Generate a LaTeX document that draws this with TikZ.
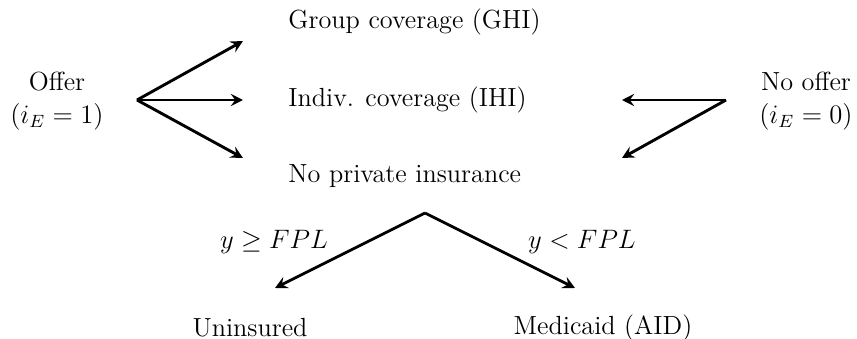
\documentclass[tikz,border=0pt]{standalone}
\usetikzlibrary{arrows.meta}
\begin{document}
\begin{tikzpicture}[x=0.45pt,y=-0.45pt,
  lbl/.style={inner sep=0pt, font=\fontsize{11.8}{14.5}\selectfont},
  arr/.style={line width=1.3pt, -{Stealth[length=5.5pt,width=5.5pt,inset=2pt]}}]
\useasboundingbox (0,0) rectangle (857,339);
% nodes
\node[lbl, align=center] (offer) at (57,101) {Offer\\$(i_E=1)$};
\node[lbl, align=center] (nooffer) at (806,101) {No offer\\$(i_E=0)$};
\node[lbl, anchor=west] (ghi) at (288,22) {Group coverage (GHI)};
\node[lbl, anchor=west] (ihi) at (288,100) {Indiv. coverage (IHI)};
\node[lbl, anchor=west] (npi) at (288,176) {No private insurance};
\node[lbl] (unins) at (250,328) {Uninsured};
\node[lbl] (aid) at (603,328) {Medicaid (AID)};
% branch points
\coordinate (L) at (137,100);
\coordinate (R) at (726,100);
\coordinate (B) at (425,213);
\coordinate (l1) at (243,41);
\coordinate (l2) at (243,100);
\coordinate (l3) at (243,158);
\coordinate (r1) at (622,100);
\coordinate (r2) at (622,158);
\coordinate (b1) at (275,288);
\coordinate (b2) at (575,288);
\draw[arr] (L) -- (l1);
\draw[arr] (L) -- (l2);
\draw[arr] (L) -- (l3);
\draw[arr] (R) -- (r1);
\draw[arr] (R) -- (r2);
\draw[arr] (B) -- (b1);
\draw[arr] (B) -- (b2);
\node[lbl] (geq) at (274,242) {$y\geq FPL$};
\node[lbl] (lt) at (582,242) {$y<FPL$};
\end{tikzpicture}
\end{document}
